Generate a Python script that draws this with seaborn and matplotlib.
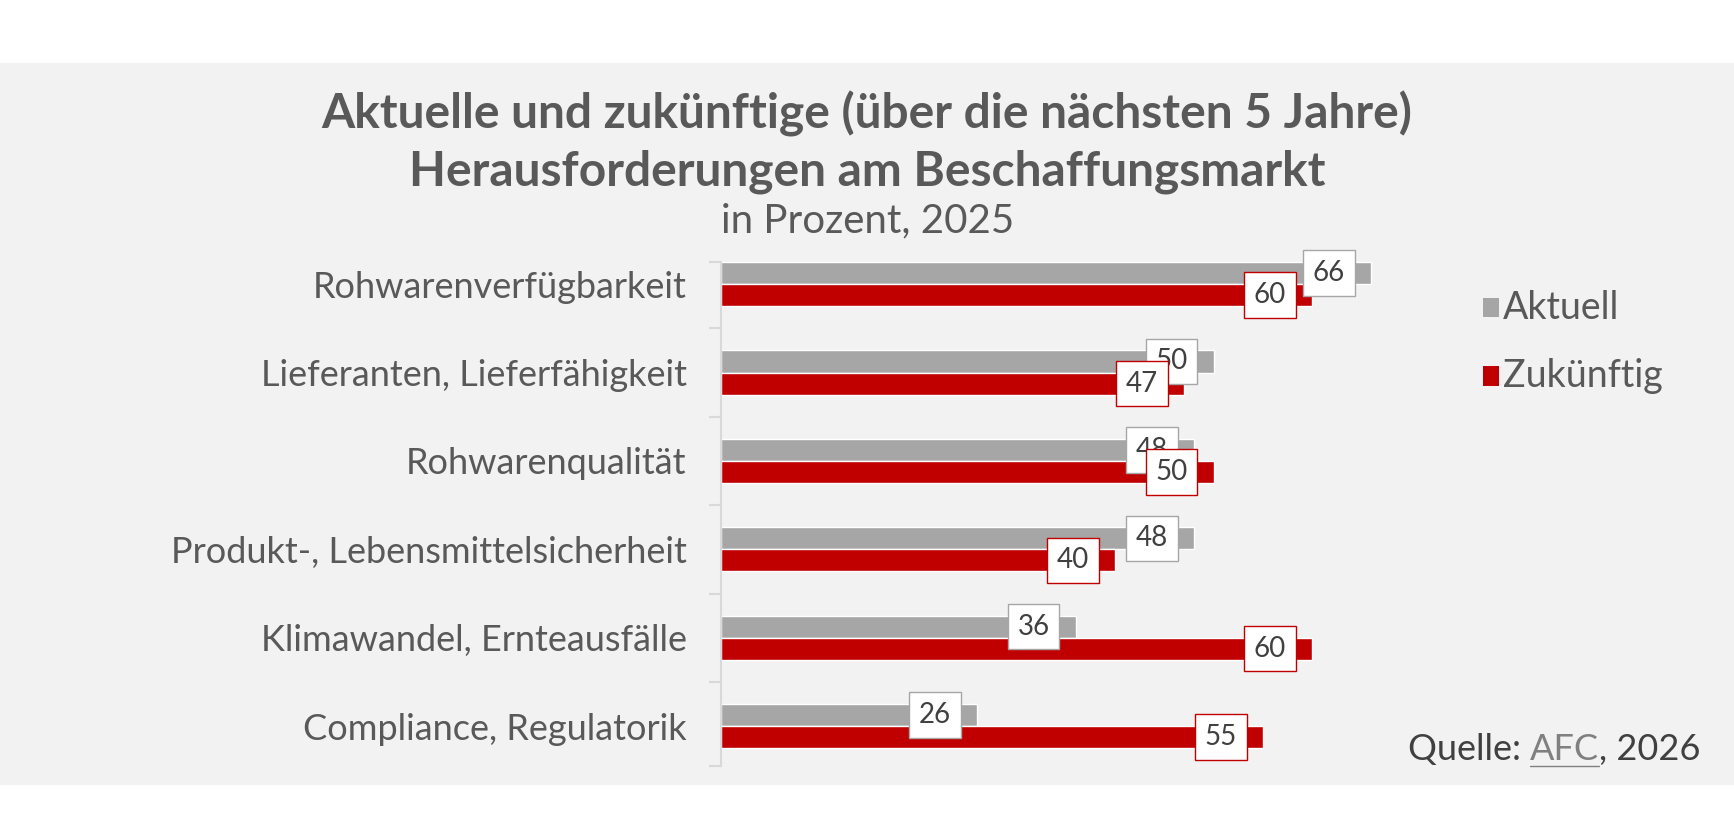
import matplotlib
matplotlib.use("Agg")
import matplotlib.pyplot as plt
import seaborn as sns
import pandas as pd
from matplotlib.patches import Rectangle

categories = ["Rohwarenverfügbarkeit", "Lieferanten, Lieferfähigkeit", "Rohwarenqualität",
              "Produkt-, Lebensmittelsicherheit", "Klimawandel, Ernteausfälle", "Compliance, Regulatorik"]
aktuell = [66, 50, 48, 48, 36, 26]
zukuenftig = [60, 47, 50, 40, 60, 55]
series = ["Aktuell", "Zukünftig"]
colors = {"Aktuell": "#a6a6a6", "Zukünftig": "#c00000"}

df = pd.DataFrame({
    "cat": categories * 2,
    "val": aktuell + zukuenftig,
    "ser": ["Aktuell"] * len(categories) + ["Zukünftig"] * len(categories),
})

sns.set_theme(style="white")
plt.rcParams["font.family"] = ["Lato", "DejaVu Sans"]
txt = "#595959"

fig = plt.figure(figsize=(17.34, 8.16), dpi=100)
fig.patch.set_facecolor("white")
fig.patches.append(Rectangle((0, 0.038), 1, 0.885, transform=fig.transFigure,
                             facecolor="#f2f2f2", edgecolor="none", zorder=-10))

ax = fig.add_axes([0.416, 0.056, 0.568, 0.650])
ax.patch.set_alpha(0)
sns.barplot(data=df, y="cat", x="val", hue="ser", orient="h", palette=colors,
            width=0.5, ax=ax, legend=False, saturation=1)
ax.set_xlim(0, 100)
ax.set_ylim(5.5, -0.5)
ax.set_xlabel(""); ax.set_ylabel("")
ax.set_xticks([])
for s in ["top", "right", "bottom"]:
    ax.spines[s].set_visible(False)
ax.spines["left"].set_color("#d9d9d9")
ax.spines["left"].set_linewidth(1.5)
ax.spines["left"].set_bounds(5.45, -0.25)
ax.tick_params(axis="y", which="major", left=False, length=0, labelsize=26, labelcolor=txt, pad=25)
ax.set_yticks([i + 0.5 for i in range(-1, 6)][1:-1] + [-0.25, 5.45], minor=True)
ax.tick_params(axis="y", which="minor", left=True, length=9, color="#d9d9d9", width=1.5, direction="out")

for i, c in enumerate(categories):
    for v, off, s in [(aktuell[i], -0.125, "Aktuell"), (zukuenftig[i], 0.125, "Zukünftig")]:
        ax.text(v - 4.3, i + off, str(v), ha="center", va="center", fontsize=20, color="#404040",
                bbox=dict(boxstyle="square,pad=0.35", fc="white", ec=colors[s], lw=1))

# legend
for j, s in enumerate(series):
    y = 0.623 - j * 0.084
    fig.patches.append(Rectangle((0.855, y - 0.012), 0.0095, 0.024, transform=fig.transFigure,
                                 facecolor=colors[s], edgecolor="none"))
    fig.text(0.867, y, s, fontsize=27, color=txt, va="center")

fig.text(0.5, 0.86, "Aktuelle und zukünftige (über die nächsten 5 Jahre)", ha="center", va="center",
         fontsize=34.5, fontweight="bold", color=txt)
fig.text(0.5, 0.79, "Herausforderungen am Beschaffungsmarkt", ha="center", va="center",
         fontsize=34.5, fontweight="bold", color=txt)
fig.text(0.416, 0.729, "in Prozent, 2025", ha="left", va="center", fontsize=29, color=txt)

t1 = fig.text(0.812, 0.081, "Quelle: ", ha="left", va="center", fontsize=26, color="#404040")
fig.canvas.draw()
bb = t1.get_window_extent()
x2 = bb.x1 / fig.bbox.width
t2 = fig.text(x2, 0.081, "AFC", ha="left", va="center", fontsize=26, color="#808080")
fig.canvas.draw()
bb2 = t2.get_window_extent()
fig.add_artist(plt.Line2D([bb2.x0 / fig.bbox.width, bb2.x1 / fig.bbox.width], [0.061, 0.061],
                          transform=fig.transFigure, color="#808080", lw=1))
fig.text(bb2.x1 / fig.bbox.width, 0.081, ", 2026", ha="left", va="center", fontsize=26, color="#404040")

fig.savefig("out.png", dpi=100, facecolor="white")
